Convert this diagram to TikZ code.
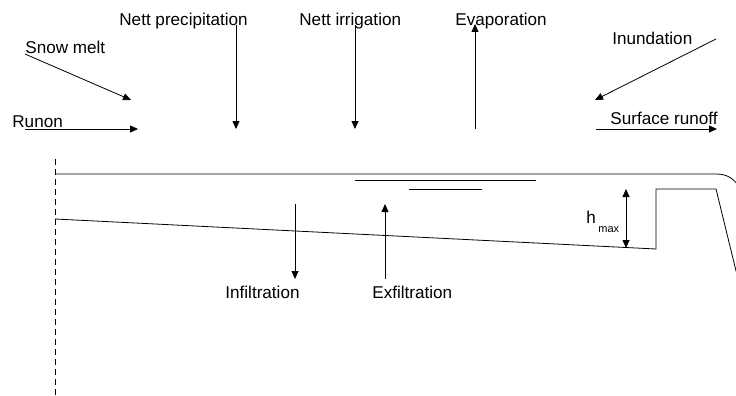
\documentclass[tikz,border=0pt]{standalone}
\usepackage{fontspec}
\setmainfont{Liberation Sans}
\usetikzlibrary{arrows.meta}
\begin{document}
\begin{tikzpicture}[x=1pt,y=-1pt,
  line width=0.8pt,
  flow/.style={-{Triangle[length=8pt,width=7pt]}},
  lbl/.style={anchor=base west,inner sep=0pt,font=\fontsize{17.1}{18}\selectfont},
  ground/.style={line width=0.8pt}]
\useasboundingbox (0,0) rectangle (736,396);
% labels
\node[lbl] (pre) at (119,26) {Nett precipitation};
\node[lbl] (irr) at (299,26) {Nett irrigation};
\node[lbl] (eva) at (455,26) {Evaporation};
\node[lbl] (snow) at (25,53) {Snow melt};
\node[lbl] (inu) at (612,45) {Inundation};
\node[lbl] (run) at (12,127) {Runon};
\node[lbl] (sro) at (610,124) {Surface runoff};
\node[lbl] (inf) at (225,298) {Infiltration};
\node[lbl] (exf) at (372,298) {Exfiltration};
\node[anchor=base west,inner sep=0pt,font=\fontsize{17.1}{18}\selectfont] (h) at (586,223) {h};
\node[anchor=base west,inner sep=0pt,font=\fontsize{11}{12}\selectfont] (hsub) at (598,232) {max};
% arrow end points
\coordinate (preA) at (236,25);  \coordinate (preB) at (236,129);
\coordinate (irrA) at (355,25);  \coordinate (irrB) at (355,129);
\coordinate (evaA) at (475,129); \coordinate (evaB) at (475,24);
\coordinate (snowA) at (25,54);  \coordinate (snowB) at (131,100);
\coordinate (runA) at (25,129);  \coordinate (runB) at (138,129);
\coordinate (inuA) at (716,39);  \coordinate (inuB) at (595,100);
\coordinate (sroA) at (596,129); \coordinate (sroB) at (717,129);
\coordinate (infA) at (295,204); \coordinate (infB) at (295,279);
\coordinate (exfA) at (385,279); \coordinate (exfB) at (385,204);
% ground geometry
\coordinate (axisT) at (55,159);
\coordinate (axisB) at (55,396);
\coordinate (surfL) at (55,174);
\coordinate (gL) at (55,219);
\coordinate (gR) at (656,249);
\coordinate (bTL) at (656,189);
\coordinate (bTR) at (716,189);
\coordinate (bOut) at (738,279);
\coordinate (hT) at (626,189);
\coordinate (hB) at (626,248);
% flows
\foreach \a/\b in {preA/preB,irrA/irrB,evaA/evaB,snowA/snowB,runA/runB,inuA/inuB,sroA/sroB,infA/infB,exfA/exfB}
  \draw[flow] (\a) -- (\b);
% symmetry axis
\draw[dashed,dash pattern=on 6pt off 4pt] (axisT) -- (axisB);
% upper surface with rounded edge
\draw (surfL) -- (716,174) .. controls (728,174) and (734,179) .. (740,188);
% ponded water lines
\draw (355,180) -- (536,180);
\draw (409,189) -- (482,189);
% sloping floor and bund
\draw (gL) -- (gR) -- (bTL) -- (bTR) -- (bOut);
% maximum ponding depth
\draw[{Triangle[length=8pt,width=7pt]}-{Triangle[length=8pt,width=7pt]}] (hT) -- (hB);
\end{tikzpicture}
\end{document}
